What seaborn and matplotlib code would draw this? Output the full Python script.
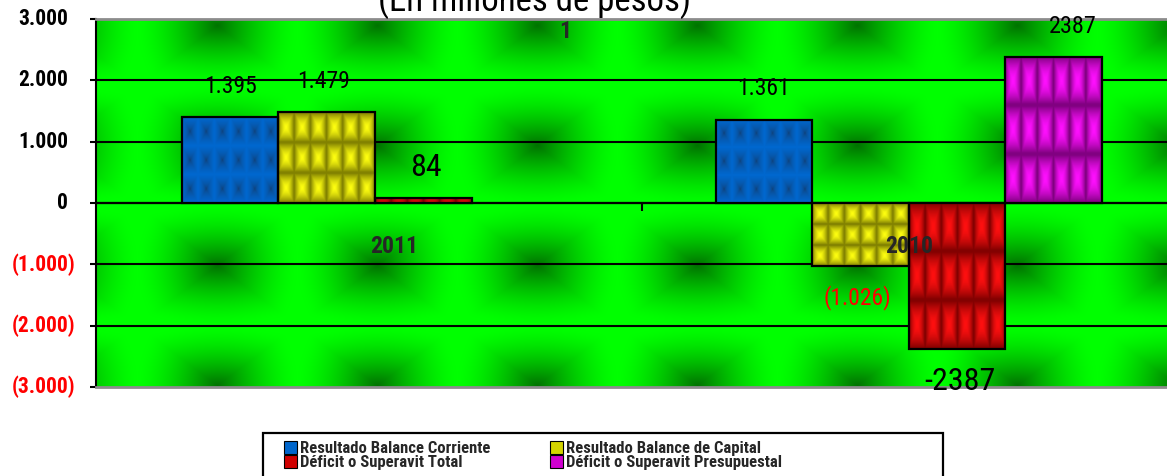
import numpy as np
import pandas as pd
import matplotlib
matplotlib.use("Agg")
import matplotlib.pyplot as plt
import matplotlib.colors as mcolors
from matplotlib import font_manager as fm
from matplotlib.patches import Patch, Rectangle
import seaborn as sns

# ---- data -------------------------------------------------------------
years = ["2011", "2010"]
series = ["Resultado Balance Corriente", "Resultado Balance de Capital",
          "Déficit o Superavit Total", "Déficit o Superavit Presupuestal"]
corriente = [1395, 1361]
capital = [1479, -1026]
total = [84, -2387]
presupuestal = [np.nan, 2387]
yticks = [-3000, -2000, -1000, 0, 1000, 2000, 3000]
subtitle = "(En millones de pesos)"
series_tag = "1"

# ---- styling ------------------------------------------------------------
sns.set_style("white")
installed = {f.name for f in fm.fontManager.ttflist}
face = next((n for n in ["DejaVu Sans Condensed", "Roboto Condensed",
                         "Liberation Sans Narrow", "Roboto"] if n in installed),
            "Lato")
plt.rcParams["font.family"] = [face, "DejaVu Sans"]

palette = {series[0]: "#0066CC", series[1]: "#D4D400",
           series[2]: "#D00000", series[3]: "#D000D0"}
# (centre colour, edge colour, exponent) of the cell texture in each bar
textures = {series[0]: ("#123A6A", "#0068D0", 0.45),
            series[1]: ("#FFFF10", "#7A7A00", 1.5),
            series[2]: ("#FF1010", "#7A0000", 1.7),
            series[3]: ("#FF10FF", "#780078", 1.7)}


def thousands(v):
    s = f"{abs(v):,.0f}".replace(",", ".")
    return f"({s})" if v < 0 else s


def plain(v):
    return f"{v:.0f}"


# formatter, font size, horizontal nudge (pt) of the value labels
label_style = {series[0]: (thousands, 17, 0),
               series[1]: (thousands, 17, -2),
               series[2]: (plain, 23, 2),
               series[3]: (plain, 17.5, 14)}

df = pd.DataFrame({
    "year": years * 4,
    "serie": np.repeat(series, len(years)),
    "value": corriente + capital + total + presupuestal,
})

W, H = 1167, 476
fig = plt.figure(figsize=(W / 100, H / 100), dpi=100)
fig.patch.set_facecolor("white")
ax = fig.add_axes([96 / W, 1 - 387 / H, (W - 96) / W, 368 / H])

xlim = (-0.5225, 1.4835)
ylim = (yticks[0], yticks[-1])


def backdrop(w, h, px=160.0, py=120.0, x0=121.0, y0=6.0):
    yy, xx = np.mgrid[0:h, 0:w].astype(float)
    u = ((xx - x0) / px + 0.5) % 1 - 0.5
    v = ((yy - y0) / py + 0.5) % 1 - 0.5
    box = np.maximum(np.abs(u), np.abs(v)) * 2
    rad = np.sqrt(u ** 2 + v ** 2) * 2
    d = np.clip(0.55 * box + 0.45 * rad, 0, 1)
    shade = 1 - 0.55 * (1 - d) ** 1.5
    rgb = np.zeros((h, w, 3))
    rgb[..., 1] = shade
    return rgb


def cell_texture(center, edge, gamma, ncols=6, nrows=3, res=24):
    h, w = nrows * res, ncols * res
    yy, xx = np.mgrid[0:h, 0:w].astype(float)
    u = ((xx + 0.5) / res) % 1 - 0.5
    v = ((yy + 0.5) / res) % 1 - 0.5
    t = np.clip(np.maximum(np.abs(u), np.abs(v)) * 2, 0, 1) ** gamma
    c = np.array(mcolors.to_rgb(center))
    e = np.array(mcolors.to_rgb(edge))
    return c + (e - c) * t[..., None]


ax.imshow(backdrop(1071, 368), extent=(*xlim, *ylim), aspect="auto",
          zorder=0, interpolation="bilinear")

for t in yticks[1:-1]:
    ax.axhline(t, color="black", lw=1.5, zorder=1)

sns.barplot(data=df, x="year", y="value", hue="serie", order=years,
            hue_order=series, palette=palette, width=0.724, saturation=1,
            edgecolor="black", linewidth=1.6, errorbar=None, legend=False,
            ax=ax)

color_to_series = {mcolors.to_hex(c): s for s, c in palette.items()}
for p in list(ax.patches):
    h = p.get_height()
    if not np.isfinite(h):
        continue
    name = color_to_series.get(mcolors.to_hex(p.get_facecolor()))
    if name is None:
        continue
    x0, w = p.get_x(), p.get_width()
    y0 = p.get_y()
    c, e, g = textures[name]
    img = cell_texture(c, e, g)
    im = ax.imshow(img, extent=(x0, x0 + w, min(y0, y0 + h), max(y0, y0 + h)),
                   aspect="auto", zorder=2.5, interpolation="bilinear")
    im.set_clip_path(p)
    p.set_zorder(3)
    p.set_facecolor("none")

    value = y0 + h
    fmt, size, dx = label_style[name]
    ax.annotate(fmt(value), xy=(x0 + w / 2, value),
                xytext=(dx, 22 if value >= 0 else -23),
                textcoords="offset points", ha="center", va="center",
                fontsize=size,
                color="red" if (fmt is thousands and value < 0) else "black",
                zorder=6)

ax.set_xlim(*xlim)
ax.set_ylim(*ylim)
ax.set_xlabel("")
ax.set_ylabel("")
ax.set_xticks([])

ax.axhline(0, color="black", lw=1.6, zorder=1.5)

# y axis: ticks on the left, labels drawn with accounting-style alignment
ax.set_yticks(yticks)
ax.tick_params(axis="y", left=True, length=4.5, width=1.5, color="black",
               labelleft=False, direction="out")
for t in yticks:
    neg = t < 0
    ax.annotate(thousands(t), xy=(0, t), xycoords=ax.get_yaxis_transform(),
                xytext=(-14.5 if neg else -20.0, 0), textcoords="offset points",
                ha="right", va="center", fontsize=15.5, fontweight="bold",
                color="#FF0000" if neg else "black", annotation_clip=False)

for side in ("top", "bottom"):
    ax.spines[side].set_color("#8C8C8C")
    ax.spines[side].set_linewidth(2)
ax.spines["left"].set_color("black")
ax.spines["left"].set_linewidth(1.5)
ax.spines["right"].set_visible(False)

# category axis sitting on the zero line: one tick between the groups
zero_pos = (0 - ylim[0]) / (ylim[1] - ylim[0])
sec = ax.secondary_xaxis(zero_pos)
sec.set_alignment("bottom")
for s in sec.spines.values():
    s.set_visible(False)
sec.set_xticks([i + 0.5 for i in range(len(years) - 1)])
sec.set_xticklabels([])
sec.tick_params(length=6, width=1.5, color="black", direction="out")

# category names, drawn above the bars
for i, yr in enumerate(years):
    ax.annotate(yr, xy=(i, 0), xytext=(14 if i == 0 else 0, -31),
                textcoords="offset points", ha="center", va="center",
                fontsize=17, fontweight="bold", zorder=7)

ax.text(0.438, 0.965, series_tag, transform=ax.transAxes, ha="center",
        va="center", fontsize=17, fontweight="bold", zorder=6)

fig.text(535 / W, 1 - 11 / H, subtitle, ha="center", va="baseline",
         fontsize=25, color="black")

# legend
order = [series[0], series[2], series[1], series[3]]
handles = [Patch(facecolor=palette[s], edgecolor="black", linewidth=0.8) for s in order]
leg = fig.legend(handles, order, loc="upper left",
                 bbox_to_anchor=(284 / W, 1 - 441 / H), ncol=2, frameon=False,
                 prop=dict(weight="bold", size=12),
                 handlelength=0.75, handleheight=0.8, handletextpad=0.2,
                 labelspacing=-0.05, columnspacing=3.6, borderpad=0,
                 borderaxespad=0)
fig.patches.append(Rectangle((263 / W, -0.02), (943 - 263) / W, 1 - 433 / H + 0.02,
                             transform=fig.transFigure, facecolor="white",
                             edgecolor="black", linewidth=1.6, zorder=0))

fig.savefig("out.png", dpi=100)
